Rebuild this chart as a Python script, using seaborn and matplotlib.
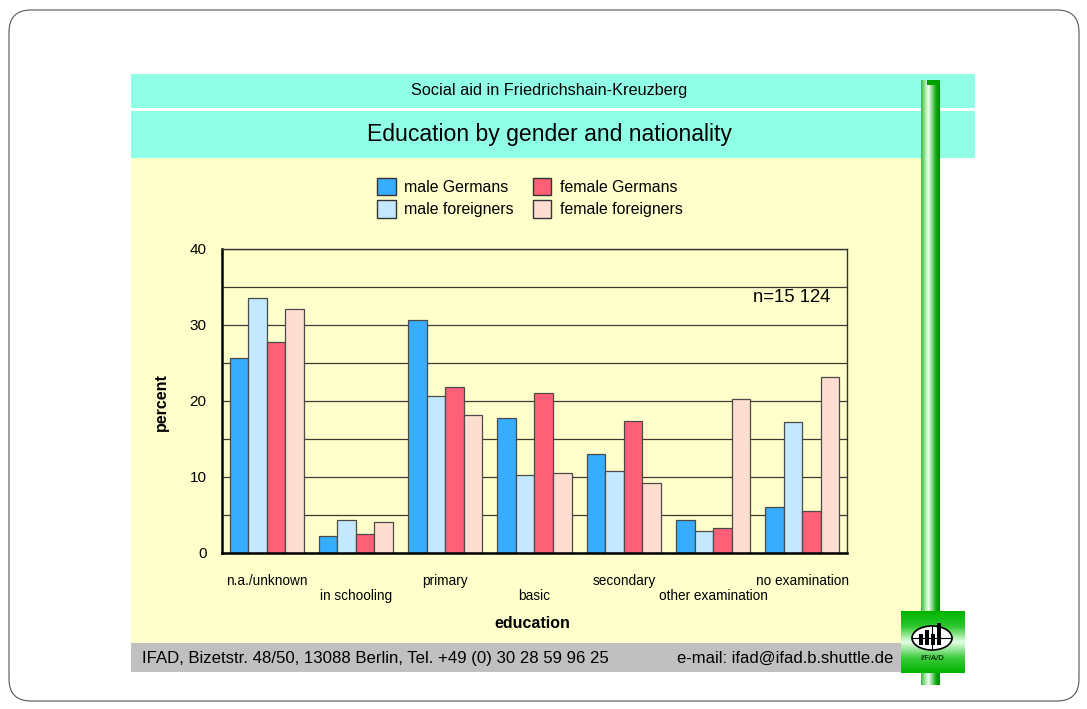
import numpy as np
import pandas as pd
import matplotlib
matplotlib.use("Agg")
import matplotlib.pyplot as plt
import seaborn as sns
from matplotlib.patches import Rectangle, FancyBboxPatch, Ellipse
from matplotlib.colors import LinearSegmentedColormap
from matplotlib.ticker import MultipleLocator

# data (percent)
categories = ["n.a./unknown", "in schooling", "primary", "basic",
              "secondary", "other examination", "no examination"]
groups = ["male Germans", "male foreigners", "female Germans", "female foreigners"]
male_germans = [25.7, 2.3, 30.6, 17.8, 13.0, 4.3, 6.0]
male_foreigners = [33.5, 4.3, 20.6, 10.2, 10.8, 2.9, 17.2]
female_germans = [27.7, 2.5, 21.9, 21.0, 17.4, 3.3, 5.5]
female_foreigners = [32.1, 4.1, 18.2, 10.5, 9.2, 20.2, 23.1]
colors = ["#36ADFF", "#C4E8FF", "#FF6077", "#FFDED2"]

sns.set_theme(style="white")
plt.rcParams["font.family"] = ["Liberation Sans", "DejaVu Sans"]
for key in ["text.color", "axes.labelcolor", "xtick.color", "ytick.color"]:
    plt.rcParams[key] = "black"

W, H = 1087, 709
fig = plt.figure(figsize=(W / 100, H / 100), dpi=100)
fig.patch.set_facecolor("white")


def fbox(x0, y0, x1, y1):
    """pixel box (top-left origin) -> figure fraction rect"""
    return [x0 / W, 1 - y1 / H, (x1 - x0) / W, (y1 - y0) / H]


# slide background drawn in pixel coordinates
bg = fig.add_axes([0, 0, 1, 1], zorder=0)
bg.set_xlim(0, W)
bg.set_ylim(H, 0)
bg.axis("off")

bg.add_patch(FancyBboxPatch((9, 10), 1070, 691, boxstyle="round,pad=0,rounding_size=22",
                            fc="white", ec="#555555", lw=0.8))
bg.add_patch(Rectangle((131, 74), 844, 34, fc="#8FFFE6", ec="none"))
bg.add_patch(Rectangle((131, 111), 844, 47, fc="#8FFFE6", ec="none"))
bg.add_patch(Rectangle((131, 158), 790, 485, fc="#FFFFCC", ec="none"))
bg.add_patch(Rectangle((131, 643), 770, 29, fc="#C0C0C0", ec="none"))

# green pole
pole_cmap = LinearSegmentedColormap.from_list(
    "pole", ["#3CB83C", "#9BE59B", "#F2FFF2", "#7DD67D", "#10A810", "#008C00"])
bg.imshow(np.linspace(0, 1, 64)[None, :], cmap=pole_cmap, aspect="auto",
          extent=(921, 940, 685, 80), zorder=3)
bg.add_patch(Rectangle((927, 80), 13, 5, fc="#00A000", ec="none", zorder=4))

# logo box
logo_cmap = LinearSegmentedColormap.from_list(
    "logo", ["#00B400", "#30C830", "#E8FFE8", "#40CC40", "#00B400"])
bg.imshow(np.linspace(0, 1, 64)[:, None], cmap=logo_cmap, aspect="auto",
          extent=(901, 965, 673, 611), zorder=5)
bg.add_patch(Ellipse((932, 638), 40, 24, fc="white", ec="black", lw=1.2, zorder=6))
bg.plot([912, 952], [638, 638], color="black", lw=0.8, zorder=7)
bg.plot([932, 932], [626, 650], color="black", lw=0.8, zorder=7)
for bx, top in zip([919, 925, 931, 937], [634, 630, 634, 623]):
    bg.add_patch(Rectangle((bx, top), 4, 645 - top, fc="black", ec="none", zorder=7))
bg.text(932, 659, "I/F/A/D", ha="center", va="center", fontsize=5.5, zorder=8)

# header and footer texts
fig.text(549 / W, 1 - 90 / H, "Social aid in Friedrichshain-Kreuzberg",
         ha="center", va="center", fontsize=11.7)
fig.text(549 / W, 1 - 134 / H, "Education by gender and nationality",
         ha="center", va="center", fontsize=16.6)
fig.text(142 / W, 1 - 658 / H, "IFAD, Bizetstr. 48/50, 13088 Berlin, Tel. +49 (0) 30 28 59 96 25",
         ha="left", va="center", fontsize=12.1)
fig.text(893 / W, 1 - 658 / H, "e-mail: ifad@ifad.b.shuttle.de",
         ha="right", va="center", fontsize=12)

# main chart
df = pd.DataFrame({
    "education": categories * 4,
    "group": np.repeat(groups, len(categories)),
    "percent": male_germans + male_foreigners + female_germans + female_foreigners,
})

ax = fig.add_axes(fbox(222, 249, 847, 553), zorder=2)
ax.set_facecolor("#FFFFCC")
sns.barplot(data=df, x="education", y="percent", hue="group", hue_order=groups,
            palette=colors, saturation=1, width=0.83, gap=0,
            edgecolor="#4A4A4A", linewidth=0.9, ax=ax)

ax.set_xlim(-0.5, len(categories) - 0.5)
ax.set_ylim(0, 40)
ax.yaxis.set_major_locator(MultipleLocator(10))
ax.yaxis.set_minor_locator(MultipleLocator(5))
ax.grid(True, which="both", axis="y", color="#3A3A30", lw=0.9)
ax.set_axisbelow(True)
ax.tick_params(axis="y", which="both", length=0, pad=11, labelsize=11)

# staggered category labels: even ones on the upper row, odd ones below
pos = np.arange(len(categories))
ax.set_xticks(pos[::2])
ax.set_xticklabels(categories[::2], fontsize=9.8)
ax.set_xticks(pos[1::2], minor=True)
ax.set_xticklabels(categories[1::2], minor=True, fontsize=9.8)
ax.tick_params(axis="x", which="major", length=0, pad=15)
ax.tick_params(axis="x", which="minor", length=0, pad=26)
ax.set_xlabel("")
ax.set_ylabel("")
for side in ["left", "bottom"]:
    ax.spines[side].set_color("black")
    ax.spines[side].set_linewidth(1.8)
for side in ["top", "right"]:
    ax.spines[side].set_color("#333333")
    ax.spines[side].set_linewidth(1.0)

ax.text(0.973, 0.842, "n=15 124", transform=ax.transAxes, ha="right", va="center", fontsize=13.3)

fig.text(161 / W, 1 - 402 / H, "percent", rotation=90, ha="center", va="center",
         fontsize=11.5, fontweight="bold")
fig.text(532 / W, 1 - 623 / H, "education", ha="center", va="center",
         fontsize=11.5, fontweight="bold")

old = ax.get_legend()
handles = old.legend_handles
labels = [t.get_text() for t in old.get_texts()]
old.remove()
leg = ax.legend(handles, labels, loc="center", bbox_to_anchor=(0.493, 1.169), ncol=2,
                frameon=False, fontsize=11.4, handlelength=1.15, handleheight=1.3,
                handletextpad=0.55, columnspacing=1.2, labelspacing=0.35)
for h in leg.legend_handles:
    h.set_edgecolor("#333333")
    h.set_linewidth(1.0)

fig.savefig("out.png", dpi=100)
